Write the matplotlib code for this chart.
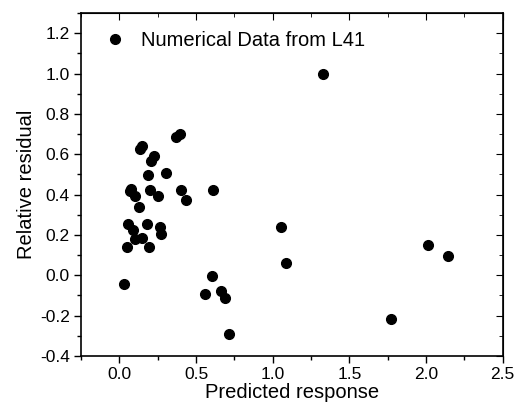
import matplotlib.pyplot as plt
from matplotlib.ticker import MultipleLocator, FormatStrFormatter

plt.rcParams['font.family'] = ['Liberation Sans', 'DejaVu Sans']

# predicted response (x) and relative residual (y)
predicted = [1.326, 2.010, 2.146, 1.771, 1.055, 1.089, 0.608, 0.601, 0.556, 0.662,
             0.686, 0.712, 0.030, 0.050, 0.056, 0.087, 0.104, 0.150, 0.195, 0.182,
             0.263, 0.271, 0.067, 0.078, 0.104, 0.130, 0.197, 0.254, 0.184, 0.208,
             0.228, 0.132, 0.145, 0.302, 0.367, 0.397, 0.401, 0.436]
residual = [1.000, 0.149, 0.094, -0.215, 0.238, 0.061, 0.421, -0.005, -0.091, -0.078,
            -0.111, -0.289, -0.043, 0.140, 0.253, 0.223, 0.180, 0.187, 0.139, 0.253,
            0.241, 0.207, 0.418, 0.428, 0.393, 0.340, 0.421, 0.392, 0.496, 0.567,
            0.592, 0.628, 0.643, 0.506, 0.684, 0.698, 0.425, 0.374]

fig = plt.figure(figsize=(5.17, 4.09), dpi=100)
ax = fig.add_axes([0.1567, 0.1296, 0.8156, 0.8386])

ax.plot(predicted, residual, 'o', color='black', markersize=7, linestyle='none',
        label='Numerical Data from L41')

ax.set_xlim(-0.25, 2.5)
ax.set_ylim(-0.4, 1.3)
ax.xaxis.set_major_locator(MultipleLocator(0.5))
ax.xaxis.set_minor_locator(MultipleLocator(0.25))
ax.set_yticks([-0.4, -0.2, 0.0, 0.2, 0.4, 0.6, 0.8, 1.0, 1.2])
ax.yaxis.set_minor_locator(MultipleLocator(0.1))
ax.xaxis.set_major_formatter(FormatStrFormatter('%.1f'))
ax.yaxis.set_major_formatter(FormatStrFormatter('%.1f'))

ax.tick_params(which='both', direction='out', labelsize=12.5, width=1, color='black')
ax.tick_params(which='major', length=5, pad=3)
ax.tick_params(which='minor', length=3)

# mirrored inward ticks on top and right
sec = ax.secondary_xaxis('top')
sec.xaxis.set_major_locator(MultipleLocator(0.5))
sec.xaxis.set_minor_locator(MultipleLocator(0.25))
sec.tick_params(which='both', direction='in', labeltop=False)
sec.tick_params(which='major', length=5)
sec.tick_params(which='minor', length=3)
secy = ax.secondary_yaxis('right')
secy.yaxis.set_major_locator(MultipleLocator(0.2))
secy.yaxis.set_minor_locator(MultipleLocator(0.1))
secy.tick_params(which='both', direction='in', labelright=False)
secy.tick_params(which='major', length=5)
secy.tick_params(which='minor', length=3)

for s in ax.spines.values():
    s.set_linewidth(1.2)

ax.set_xlabel('Predicted response', fontsize=14.5, labelpad=1)
ax.set_ylabel('Relative residual', fontsize=14.5, labelpad=3)
ax.legend(loc='upper left', frameon=False, fontsize=14.5, handletextpad=0.5,
          borderaxespad=0.6, borderpad=0.3, handlelength=1.6)

fig.savefig('out.png', dpi=100)
